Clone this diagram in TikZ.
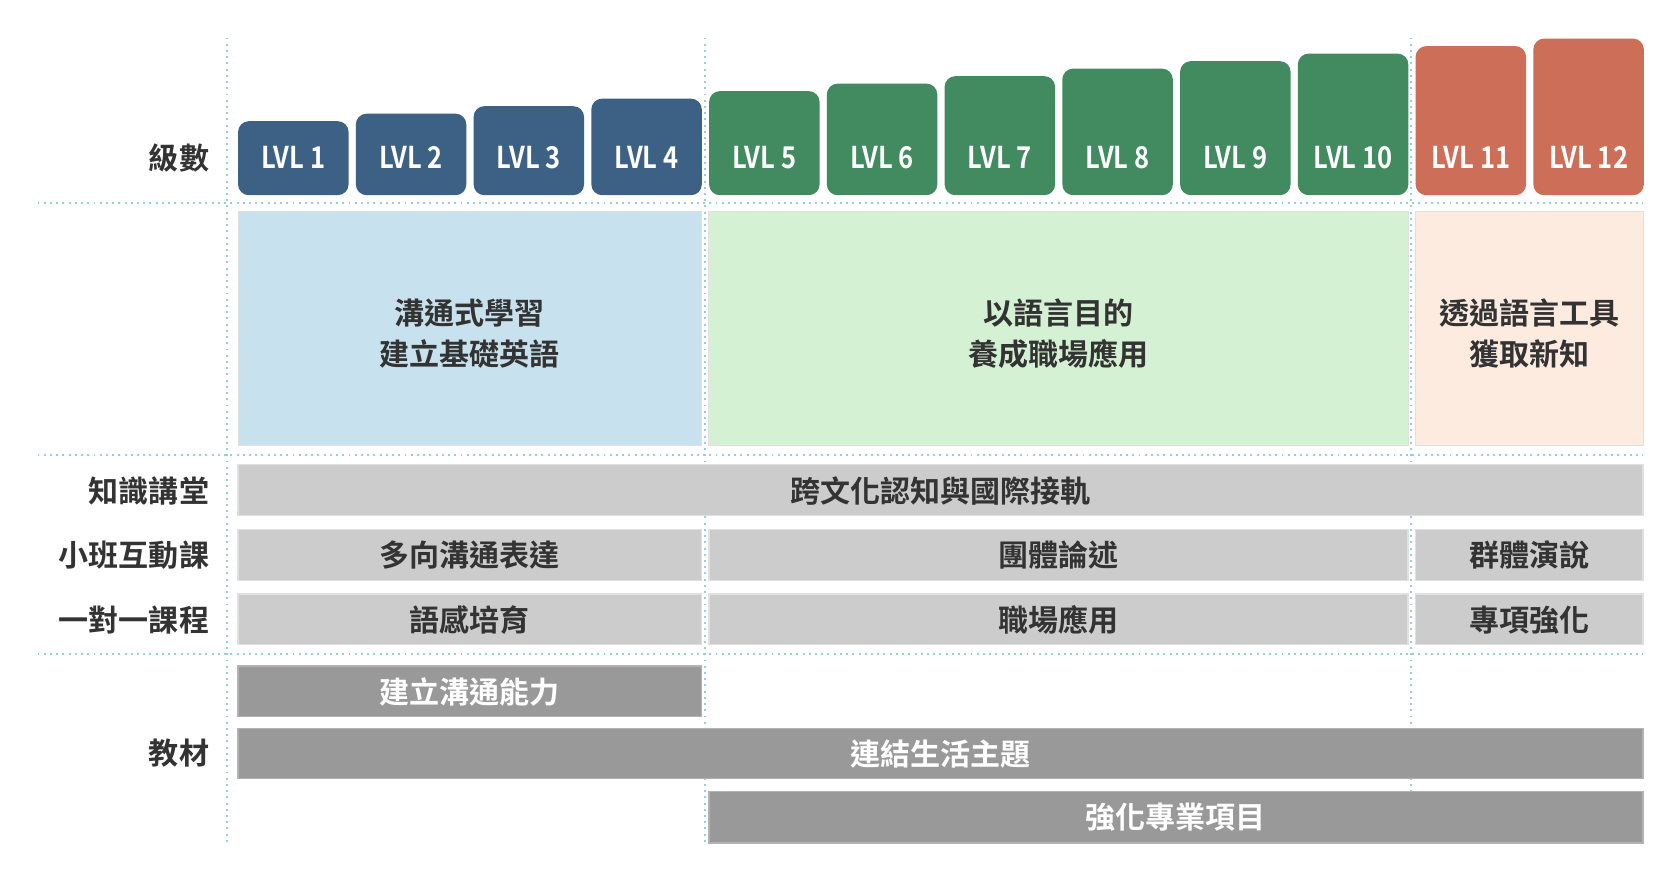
\documentclass[tikz,border=0pt]{standalone}
\usepackage{fontspec}
\setmainfont{Noto Sans CJK TC}[BoldFont={Noto Sans CJK TC Bold}]
\newfontfamily\lvlfont{Noto Sans CJK TC Bold}[FakeStretch=0.85]
\begin{document}
\begin{tikzpicture}[x=0.5pt,y=-0.5pt,
  grid/.style={draw={rgb,255:red,150;green,205;blue,225}, dotted, line width=0.9pt},
  lvl/.style={rounded corners=5pt, line width=0pt},
  gbox/.style={fill=black!20, draw=black!12, line width=0.6pt},
  dbox/.style={fill=black!40, draw=black!30, line width=0.6pt},
  lab/.style={anchor=east, font=\bfseries\fontsize{14}{19}\selectfont, text=black!80},
  txt/.style={font=\bfseries\fontsize{14}{19}\selectfont, text=black!80, align=center},
  wtxt/.style={font=\bfseries\fontsize{14}{19}\selectfont, text=white},
  ltxt/.style={font=\lvlfont\fontsize{14}{16}\selectfont, text=white}]
\definecolor{cblue}{HTML}{3D6185}
\definecolor{cgreen}{HTML}{428A5F}
\definecolor{cred}{HTML}{CC6E58}
\useasboundingbox (0,0) rectangle (1560,819);
\fill[white] (0,0) rectangle (1560,819);
% grid
\foreach \x in {212,657,1316} \draw[grid] (\x,35) -- (\x,788);
\foreach \y in {189,424,610} \draw[grid] (35,\y) -- (1532,\y);
% levels
\foreach \i/\c in {1/cblue,2/cblue,3/cblue,4/cblue,5/cgreen,6/cgreen,7/cgreen,8/cgreen,9/cgreen,10/cgreen,11/cred,12/cred}{
  \pgfmathsetmacro\xl{222+109.8*(\i-1)}
  \pgfmathsetmacro\yt{113-7*(\i-1)}
  \fill[lvl,fill=\c] (\xl,\yt) rectangle ++(103,182-\yt);
  \node[ltxt] (L\i) at (\xl+51.5,147) {LVL \i};
}
\node[lab] (k1) at (202,147) {級數};
% bands
\fill[draw=black!12,fill={rgb,255:red,200;green,225;blue,238}] (222,197) rectangle (654,415);
\fill[draw=black!12,fill={rgb,255:red,212;green,242;blue,211}] (661,197) rectangle (1313,415);
\fill[draw=black!12,fill={rgb,255:red,253;green,235;blue,224}] (1320,197) rectangle (1532,415);
\node[txt] (b1) at (438,311) {溝通式學習\\建立基礎英語};
\node[txt] (b2) at (987,311) {以語言目的\\養成職場應用};
\node[txt] (b3) at (1426,311) {透過語言工具\\獲取新知};
% rows
\node[lab] (r1) at (202,458) {知識講堂};
\node[lab] (r2) at (202,518) {小班互動課};
\node[lab] (r3) at (202,578) {一對一課程};
\node[lab] (r4) at (202,702) {教材};
\draw[gbox] (222,433) rectangle (1532,481);
\node[txt] (g1) at (877,458) {跨文化認知與國際接軌};
\draw[gbox] (222,494) rectangle (654,541); \node[txt] (g2) at (438,518) {多向溝通表達};
\draw[gbox] (661,494) rectangle (1313,541); \node[txt] (g3) at (987,518) {團體論述};
\draw[gbox] (1320,494) rectangle (1532,541); \node[txt] (g4) at (1426,518) {群體演說};
\draw[gbox] (222,554) rectangle (654,601); \node[txt] (g5) at (438,578) {語感培育};
\draw[gbox] (661,554) rectangle (1313,601); \node[txt] (g6) at (987,578) {職場應用};
\draw[gbox] (1320,554) rectangle (1532,601); \node[txt] (g7) at (1426,578) {專項強化};
\draw[dbox] (222,621) rectangle (654,668); \node[wtxt] (d1) at (438,645) {建立溝通能力};
\draw[dbox] (222,679) rectangle (1532,726); \node[wtxt] (d2) at (877,703) {連結生活主題};
\draw[dbox] (661,738) rectangle (1532,786); \node[wtxt] (d3) at (1096,762) {強化專業項目};
\end{tikzpicture}
\end{document}
